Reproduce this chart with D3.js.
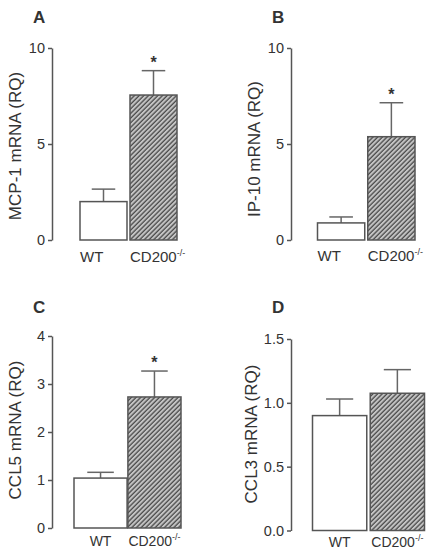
<!DOCTYPE html>
<html>
<head>
<meta charset="utf-8">
<script src="https://cdn.jsdelivr.net/npm/d3@7"></script>
<style>
  body { margin: 0; background: #fff; }
  text { font-family: "Liberation Sans", Arial, sans-serif; fill: #333; }
</style>
</head>
<body>
<div id="chart"></div>
<script>
// Data (mean and upper SEM)
const groups = ["WT", "CD200"];
const mcp1Mean = [2.0, 7.55];
const mcp1Sem = [0.65, 1.27];
const ip10Mean = [0.89, 5.38];
const ip10Sem = [0.31, 1.77];
const ccl5Mean = [1.04, 2.73];
const ccl5Sem = [0.12, 0.54];
const ccl3Mean = [0.90, 1.075];
const ccl3Sem = [0.13, 0.185];
const significant = [[false, true], [false, true], [false, true], [false, false]];

const panelLetters = ["A", "B", "C", "D"];
const yTitles = ["MCP-1 mRNA (RQ)", "IP-10 mRNA (RQ)", "CCL5 mRNA (RQ)", "CCL3 mRNA (RQ)"];
const yMax = [10, 10, 4, 1.5];
const yTicks = [[0, 5, 10], [0, 5, 10], [0, 1, 2, 3, 4], [0, 0.5, 1.0, 1.5]];

const means = [mcp1Mean, ip10Mean, ccl5Mean, ccl3Mean];
const sems = [mcp1Sem, ip10Sem, ccl5Sem, ccl3Sem];

// Layout of each panel (pixel positions only)
const layout = [
    { axisX: 52, yRange: [240, 48], xRange: [80, 177], pad: 0.06, anchor: "start", labelY: 262, labelSize: 15, letter: [33, 23], titleX: 15, titleY: 146, fmt: "d" },
    { axisX: 291, yRange: [240, 48], xRange: [317.5, 415], pad: 0.06, anchor: "start", labelY: 261, labelSize: 15, letter: [272, 23], titleX: 254, titleY: 149, fmt: "d" },
    { axisX: 52, yRange: [528, 336], xRange: [74, 181], pad: 0.015, anchor: "middle", labelY: 546, labelSize: 14, letter: [33, 313], titleX: 15, titleY: 430, fmt: "d" },
    { axisX: 291, yRange: [530.5, 339], xRange: [312.5, 424.5], pad: 0.06, anchor: "middle", labelY: 547, labelSize: 14, letter: [272, 313], titleX: 251, titleY: 434, fmt: ".1f" }
];

const svg = d3.select("#chart")
    .append("svg")
    .attr("width", 435)
    .attr("height", 551);

// Hatch pattern for the knockout bars
svg.append("defs")
    .append("pattern")
    .attr("id", "hatch")
    .attr("patternUnits", "userSpaceOnUse")
    .attr("width", 3.3)
    .attr("height", 3.3)
    .attr("patternTransform", "rotate(45)")
    .call(p => {
        p.append("rect").attr("width", 3.3).attr("height", 3.3).attr("fill", "#c4c4c4");
        p.append("line").attr("x1", 1).attr("x2", 1).attr("y1", 0).attr("y2", 3.3)
            .attr("stroke", "#4a4a4a").attr("stroke-width", 1.3);
    });

layout.forEach((L, i) => {
    const data = groups.map((g, j) => ({ group: g, mean: means[i][j], sem: sems[i][j], sig: significant[i][j] }));
    const g = svg.append("g");

    const y = d3.scaleLinear().domain([0, yMax[i]]).range(L.yRange);
    const x = d3.scaleBand().domain(groups).range(L.xRange).paddingInner(L.pad);

    // Y axis
    const axis = g.append("g")
        .attr("transform", `translate(${L.axisX},0)`)
        .call(d3.axisLeft(y).tickValues(yTicks[i]).tickFormat(d3.format(L.fmt)).tickSize(4).tickSizeOuter(0).tickPadding(3));
    axis.select(".domain").attr("stroke", "#555").attr("stroke-width", 1.5);
    axis.selectAll(".tick line").attr("stroke", "#555").attr("stroke-width", 1.5);
    axis.selectAll(".tick text")
        .style("font-size", "14.5px")
        .style("font-family", "Liberation Sans, Arial, sans-serif")
        .attr("fill", "#333");

    // Error bars (upper only)
    g.selectAll(".err")
        .data(data)
        .join("line")
        .attr("x1", d => x(d.group) + x.bandwidth() / 2)
        .attr("x2", d => x(d.group) + x.bandwidth() / 2)
        .attr("y1", d => y(d.mean))
        .attr("y2", d => y(d.mean + d.sem))
        .attr("stroke", "#666")
        .attr("stroke-width", 1.5);

    g.selectAll(".cap")
        .data(data)
        .join("line")
        .attr("x1", d => x(d.group) + x.bandwidth() * 0.25)
        .attr("x2", d => x(d.group) + x.bandwidth() * 0.75)
        .attr("y1", d => y(d.mean + d.sem))
        .attr("y2", d => y(d.mean + d.sem))
        .attr("stroke", "#666")
        .attr("stroke-width", 1.5);

    // Bars
    g.selectAll(".bar")
        .data(data)
        .join("rect")
        .attr("x", d => x(d.group))
        .attr("y", d => y(d.mean))
        .attr("width", x.bandwidth())
        .attr("height", d => y(0) - y(d.mean))
        .attr("fill", (d, j) => j === 0 ? "#fff" : "url(#hatch)")
        .attr("stroke", "#555")
        .attr("stroke-width", 1.5);

    // Asterisks
    g.selectAll(".star")
        .data(data.filter(d => d.sig))
        .join("text")
        .attr("x", d => x(d.group) + x.bandwidth() / 2)
        .attr("y", d => y(d.mean + d.sem) - 3)
        .attr("text-anchor", "middle")
        .style("font-size", "16px")
        .style("font-weight", "bold")
        .attr("fill", "#222")
        .text("*");

    // Group labels
    const labels = g.selectAll(".xlab")
        .data(data)
        .join("text")
        .attr("x", d => L.anchor === "start" ? x(d.group) : x(d.group) + x.bandwidth() / 2)
        .attr("y", L.labelY)
        .attr("text-anchor", L.anchor)
        .style("font-size", L.labelSize + "px")
        .text(d => d.group);
    labels.filter(d => d.group === "CD200")
        .append("tspan")
        .attr("dy", -6)
        .style("font-size", "9px")
        .text("-/-");

    // Y title
    g.append("text")
        .attr("transform", `translate(${L.titleX},${L.titleY}) rotate(-90)`)
        .attr("text-anchor", "middle")
        .attr("dy", "0.35em")
        .style("font-size", "17px")
        .text(yTitles[i]);

    // Panel letter
    g.append("text")
        .attr("x", L.letter[0])
        .attr("y", L.letter[1])
        .style("font-size", "17px")
        .style("font-weight", "bold")
        .attr("fill", "#111")
        .text(panelLetters[i]);
});
</script>
</body>
</html>
